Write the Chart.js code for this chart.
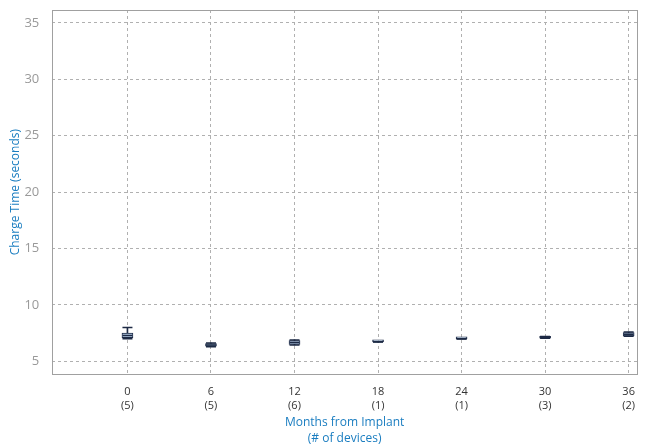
<!DOCTYPE html>
<html><head><meta charset="utf-8">
<script src="https://cdn.jsdelivr.net/npm/chart.js@4"></script>
<style>html,body{margin:0;padding:0;background:#fff}#wrap{width:647px;height:447px}</style>
</head><body><div id="wrap"><canvas id="c" width="647" height="447"></canvas></div>
<script>
const months = [0, 6, 12, 18, 24, 30, 36];
const deviceCounts = [5, 5, 6, 1, 1, 3, 2];
const minVals    = [7.0, 6.3, 6.45, 6.73, 7.0, 7.05, 7.22];
const q1Vals     = [7.1, 6.35, 6.5, 6.73, 7.0, 7.05, 7.25];
const medianVals = [7.3, 6.45, 6.68, 6.73, 7.0, 7.12, 7.4];
const q3Vals     = [7.5, 6.58, 6.85, 6.73, 7.0, 7.2, 7.55];
const maxVals    = [8.0, 6.62, 6.9, 6.73, 7.0, 7.2, 7.6];
const yTicks = [5, 10, 15, 20, 25, 30, 35];

const boxes = months.map((m,i)=>({x:m, y:[q1Vals[i], q3Vals[i]]}));
const lowWhisk = months.map((m,i)=>({x:m, y:[minVals[i], q1Vals[i]]}));
const highWhisk = months.map((m,i)=>({x:m, y:[q3Vals[i], maxVals[i]]}));
const medians = months.map((m,i)=>({x:m, y:medianVals[i]}));
const mins = months.map((m,i)=>({x:m, y:minVals[i]}));
const maxs = months.map((m,i)=>({x:m, y:maxVals[i]}));

const frame = {
  id:'frame',
  beforeDatasetsDraw(chart){
    const {ctx, chartArea:a} = chart;
    ctx.save();
    ctx.strokeStyle = '#a0a0a0';
    ctx.lineWidth = 1;
    ctx.strokeRect(Math.round(a.left)+0.5, Math.round(a.top)+0.5, Math.round(a.right-a.left), Math.round(a.bottom-a.top));
    ctx.restore();
  }
};

const FONT = '"Open Sans", "Noto Sans", sans-serif';
new Chart(document.getElementById('c'), {
  data: {
    datasets: [
      {type:'bar', data: lowWhisk, backgroundColor:'#1d2a45', barThickness:1, grouped:false, order:3},
      {type:'bar', data: highWhisk, backgroundColor:'#1d2a45', barThickness:1, grouped:false, order:3},
      {type:'bar', data: boxes, backgroundColor:'#b4cbe4', borderColor:'#1d2a45', borderWidth:1, borderSkipped:false, barThickness:11, minBarLength:2, grouped:false, order:2},
      {type:'scatter', data: medians, pointStyle:'line', pointRadius:5, borderColor:'#1d2a45', borderWidth:1.5, order:1},
      {type:'scatter', data: mins, pointStyle:'line', pointRadius:5, borderColor:'#1d2a45', borderWidth:1.5, order:1},
      {type:'scatter', data: maxs, pointStyle:'line', pointRadius:5, borderColor:'#1d2a45', borderWidth:1.5, order:1}
    ]
  },
  options: {
    responsive:false, animation:false,
    layout:{padding:{left:4, right:10, top:10, bottom:1}},
    plugins:{legend:{display:false}, tooltip:{enabled:false}},
    scales:{
      x:{
        type:'linear', min:-5.4, max:36.6, offset:false,
        afterBuildTicks(s){ s.ticks = months.map(v=>({value:v})); },
        grid:{color:'#b0b0b0', drawTicks:false, lineWidth:1, offset:false},
        border:{display:false, dash:[3,3]},
        ticks:{padding:11, color:'#333', font:{family:FONT, size:11, lineHeight:1.25},
          callback:(v)=>{const i=months.indexOf(v); return i<0?'':[String(v),'('+deviceCounts[i]+')'];}},
        title:{display:true, text:['Months from Implant','(# of devices)'], color:'#1a7dc0', font:{family:FONT, size:12, lineHeight:1.3}, padding:{top:-9, bottom:0}}
      },
      y:{
        type:'linear', min:3.85, max:36.15,
        afterBuildTicks(s){ s.ticks = yTicks.map(v=>({value:v})); },
        afterFit(s){ s.paddingTop = 0; s.paddingBottom = 0; },
        grid:{color:'#b0b0b0', drawTicks:false, lineWidth:1},
        border:{display:false, dash:[3,3]},
        ticks:{padding:13, color:'#999', font:{family:FONT, size:13}},
        title:{display:true, text:'Charge Time (seconds)', color:'#1a7dc0', font:{family:FONT, size:12}, padding:{top:4, bottom:-11}}
      }
    }
  },
  plugins:[frame]
});
</script></body></html>
